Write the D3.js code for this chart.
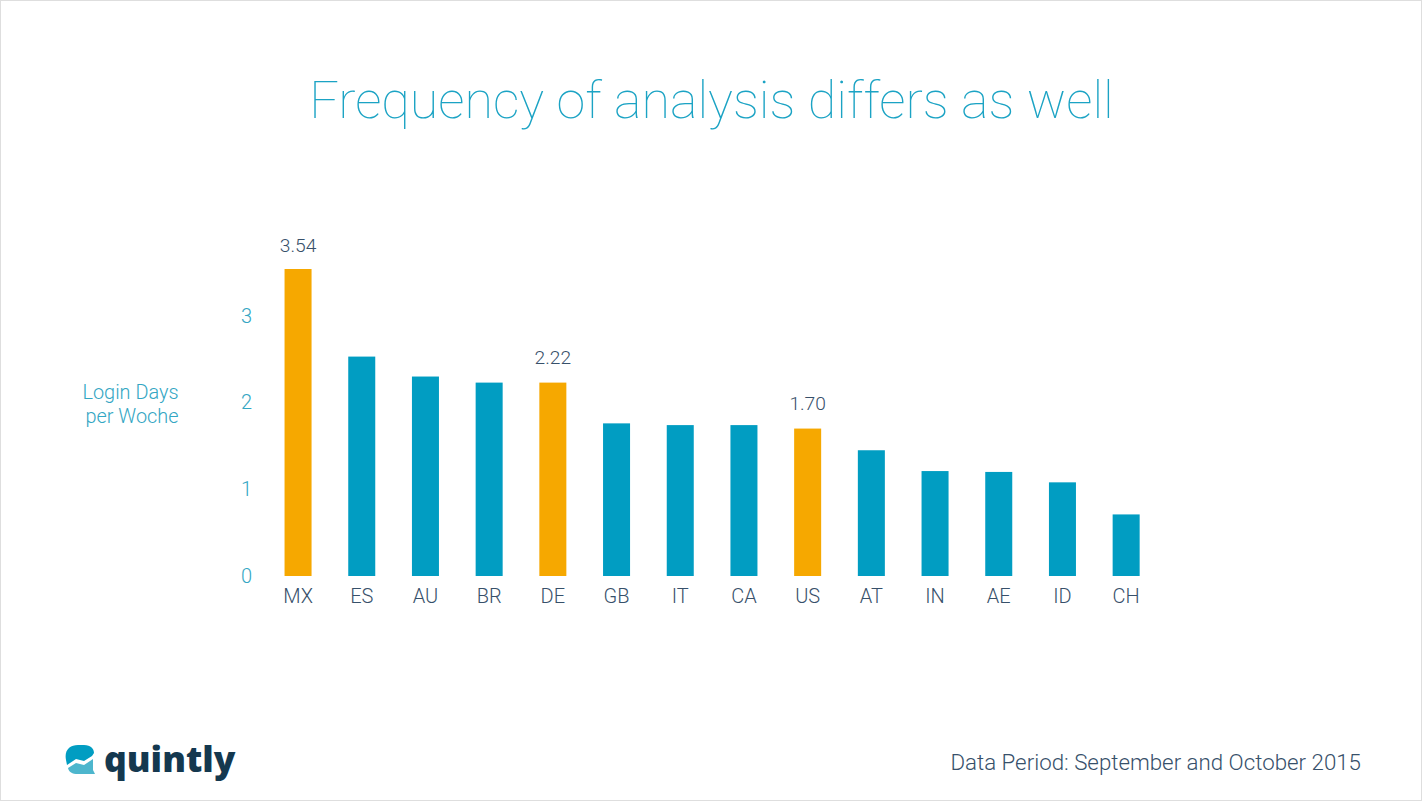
<!DOCTYPE html>
<html><head><meta charset="utf-8">
<script src="https://cdnjs.cloudflare.com/ajax/libs/d3/7.8.5/d3.min.js"></script>
<style>html,body{margin:0;padding:0;background:#fff}svg{display:block}text{font-family:Roboto,sans-serif}</style>
</head><body><svg id="c" width="1422" height="801"></svg>
<script>
const categories=["MX","ES","AU","BR","DE","GB","IT","CA","US","AT","IN","AE","ID","CH"];
const values=[3.54,2.53,2.30,2.23,2.23,1.76,1.74,1.74,1.70,1.45,1.21,1.20,1.08,0.71];
const highlighted=["MX","DE","US"];
const yTicks=[0,1,2,3];
const labelled={MX:"3.54",DE:"2.22",US:"1.70"};
const blue="#019dc2",orange="#f6a800",dark="#37506a",teal="#33a6c3";
const svg=d3.select("#c");
svg.append("rect").attr("x",.5).attr("y",.5).attr("width",1421).attr("height",800).attr("fill","#fff").attr("stroke","#dedede");
svg.append("text").attr("x",711.5).attr("y",118).attr("text-anchor","middle").attr("font-size",52).attr("font-weight",100).attr("fill","#1ba3c4").text("Frequency of analysis differs as well");
const x=d3.scaleBand().domain(categories).range([266.2,1158]).paddingInner(.576).paddingOuter(.288);
const y=d3.scaleLinear().domain([0,3.54]).range([576,269]);
svg.append("g").selectAll("rect").data(categories).join("rect")
 .attr("x",d=>x(d)).attr("width",x.bandwidth())
 .attr("y",(d,i)=>y(values[i])).attr("height",(d,i)=>y(0)-y(values[i]))
 .attr("fill",d=>highlighted.includes(d)?orange:blue);
svg.append("g").selectAll("text").data(categories.filter(d=>labelled[d])).join("text")
 .attr("x",d=>x(d)+x.bandwidth()/2).attr("y",d=>y(values[categories.indexOf(d)])-(d==="MX"?17:18.5))
 .attr("text-anchor","middle").attr("font-size",19.2).attr("font-weight",300).attr("fill",dark).text(d=>labelled[d]);
const ax=svg.append("g").attr("transform","translate(0,576.5)").call(d3.axisBottom(x).tickSize(0).tickPadding(12));
ax.select(".domain").remove();
ax.selectAll("text").attr("font-size",20).attr("font-weight",300).attr("fill",dark).style("font-family","Roboto");
const ay=svg.append("g").attr("transform","translate(252,0)").call(d3.axisLeft(y).tickValues(yTicks).tickFormat(d3.format("d")).tickSize(0).tickPadding(0));
ay.select(".domain").remove();
ay.selectAll("text").attr("font-size",20).attr("font-weight",300).attr("fill",teal).style("font-family","Roboto");
const yl=svg.append("text").attr("text-anchor","end").attr("font-size",19.9).attr("font-weight",300).attr("fill",teal);
yl.append("tspan").attr("x",178.5).attr("y",398.5).text("Login Days");
yl.append("tspan").attr("x",178.5).attr("y",423).text("per Woche");
svg.append("text").attr("x",1361).attr("y",769.5).attr("text-anchor","end").attr("font-size",22.3).attr("font-weight",300).attr("fill",dark).text("Data Period: September and October 2015");
// logo
const logo=svg.append("g");
logo.append("path").attr("fill","#019dc2").attr("d","M66 760 C64 750 70 745 78 745 L84 745 C91 745 94 749 94 753 L92 756 L84 761 L76 759 L67 765 Z");
logo.append("path").attr("fill","#4db6cd").attr("d","M68 768 L76 763 L84 765 L93 759 L93 770 L95 774 L78 774 C72 774 69 772 68 768 Z");
logo.append("text").attr("x",104).attr("y",771.5).attr("font-size",35.5).attr("font-weight",800).attr("fill","#14384f").style("font-family","Open Sans").text("quintly");
</script></body></html>
